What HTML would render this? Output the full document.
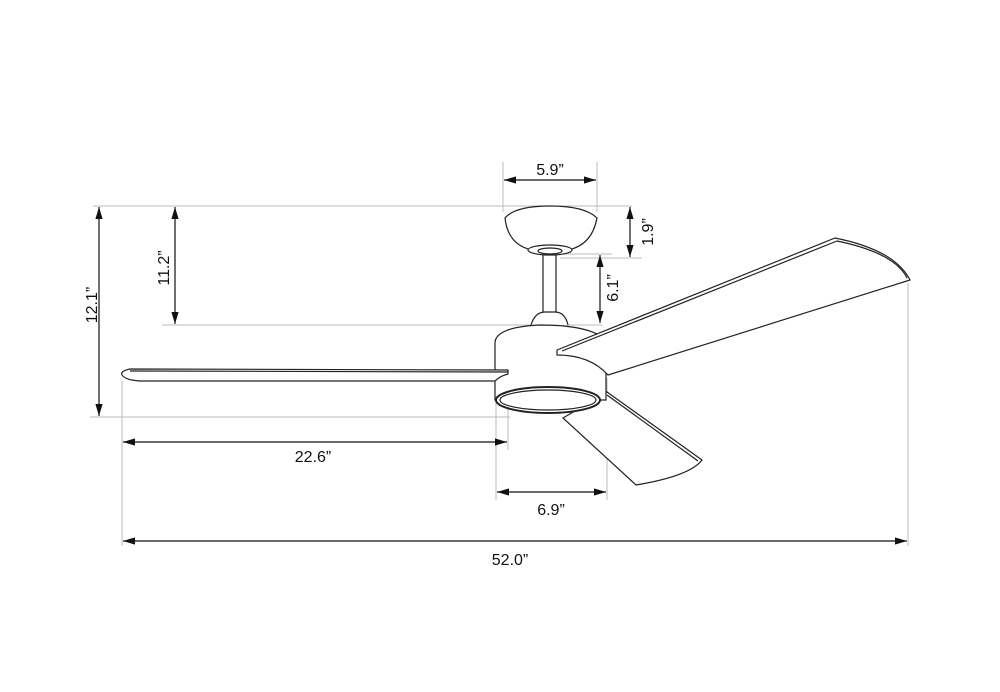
<!DOCTYPE html>
<html><head><style>body{margin:0;background:#fff}svg{display:block}text{font-family:"Liberation Sans",sans-serif;font-size:16px;fill:#111}</style></head>
<body>
<svg width="1000" height="692" viewBox="0 0 1000 692" xmlns="http://www.w3.org/2000/svg">
<defs><marker id="a" viewBox="0 0 10 6" refX="10" refY="3" markerWidth="10" markerHeight="6" orient="auto-start-reverse"><path d="M0,0L10,3L0,6z" fill="#111"/></marker></defs>
<g stroke="#bbb" stroke-width="1" fill="none">
<line x1="93" y1="206" x2="632" y2="206"/>
<line x1="162" y1="325" x2="602" y2="325"/>
<line x1="90" y1="417" x2="510" y2="417"/>
<line x1="560" y1="258" x2="642" y2="258"/>
<line x1="555" y1="254" x2="612" y2="254"/>
<line x1="503" y1="162" x2="503" y2="212"/>
<line x1="597" y1="162" x2="597" y2="212"/>
<line x1="122" y1="381" x2="122" y2="546"/>
<line x1="496" y1="395" x2="496" y2="500"/>
<line x1="508" y1="378" x2="508" y2="450"/>
<line x1="607" y1="378" x2="607" y2="500"/>
<line x1="908" y1="283" x2="908" y2="546"/>
</g>
<g stroke="#111" stroke-width="1.2" marker-start="url(#a)" marker-end="url(#a)">
<line x1="99" y1="207" x2="99" y2="416"/>
<line x1="175" y1="207" x2="175" y2="324"/>
<line x1="504" y1="180" x2="596" y2="180"/>
<line x1="630" y1="207" x2="630" y2="257"/>
<line x1="600" y1="255" x2="600" y2="323"/>
<line x1="123" y1="442" x2="507" y2="442"/>
<line x1="497" y1="492" x2="606" y2="492"/>
<line x1="123" y1="541" x2="907" y2="541"/>
</g>
<text x="550" y="175" text-anchor="middle">5.9”</text>
<text x="313" y="462" text-anchor="middle">22.6”</text>
<text x="551" y="515" text-anchor="middle">6.9”</text>
<text x="510" y="565" text-anchor="middle">52.0”</text>
<text transform="translate(97,305) rotate(-90)" text-anchor="middle">12.1”</text>
<text transform="translate(169,268) rotate(-90)" text-anchor="middle">11.2”</text>
<text transform="translate(653,232) rotate(-90)" text-anchor="middle">1.9”</text>
<text transform="translate(618,288) rotate(-90)" text-anchor="middle">6.1”</text>
<g stroke="#222" stroke-width="1.2" fill="#fff">
<path d="M563,418 L607,392 L702,460 Q690,476 636,485 Z"/>
<line x1="607" y1="395" x2="698" y2="461"/>
<path d="M505,218 Q515,206 550,206 Q585,206 597,218 Q592,245 568,250 L532,250 Q508,245 505,218 Z"/>
<ellipse cx="550" cy="250" rx="22" ry="5"/>
<ellipse cx="550" cy="251" rx="12" ry="3"/>
<rect x="543" y="255" width="13" height="60"/>
<path d="M531,325 Q535,312 545,312 L555,312 Q565,312 568,325"/>
<path d="M495,400 L495,342 Q497,327 540,325 Q590,325 606,340 L606,400 Z"/>
<ellipse cx="548" cy="400" rx="52" ry="13" stroke-width="2"/>
<ellipse cx="548" cy="400" rx="48" ry="10"/>
<path d="M508,370 L130,369 Q120,371 122,375 Q125,380 140,381 L495,381 Q500,376 508,374 Z"/>
<line x1="130" y1="371" x2="508" y2="372"/>
<path d="M557,350 L835,238 Q895,250 910,280 L608,375 Q590,355 557,355 Z"/>
<line x1="562" y1="351" x2="837" y2="241"/>
<path d="M837,241 Q895,253 907,278" fill="none"/>
</g>
</svg>
</body></html>
